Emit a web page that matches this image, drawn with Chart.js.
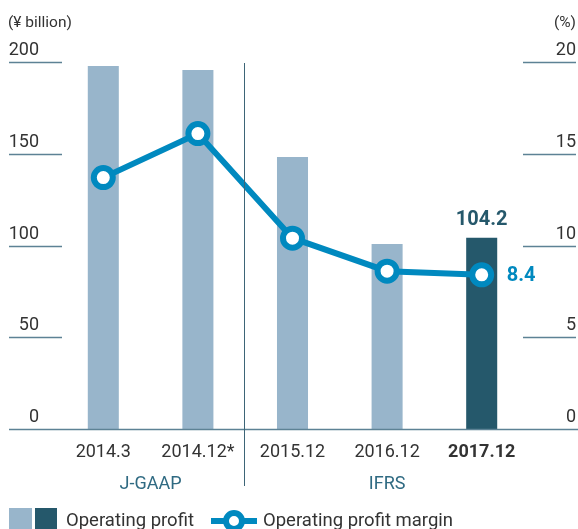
<!DOCTYPE html>
<html>
<head>
<meta charset="utf-8">
<script src="https://cdn.jsdelivr.net/npm/chart.js@4/dist/chart.umd.min.js"></script>
<style>
  html, body { margin: 0; padding: 0; background: #fff; }
  canvas { display: block; }
</style>
</head>
<body>
<canvas id="myChart" width="578" height="529"></canvas>
<script>
  // chart values
  const categories = ['2014.3', '2014.12*', '2015.12', '2016.12', '2017.12'];
  const operatingProfit = [197.8, 195.6, 148.2, 100.8, 104.2];
  const profitMargin = [13.7, 16.1, 10.4, 8.6, 8.4];
  const leftTicks = [0, 50, 100, 150, 200];
  const rightTicks = [0, 5, 10, 15, 20];
  const groups = [{ label: 'J-GAAP', at: 0.5 }, { label: 'IFRS', at: 3 }];

  const LIGHT = '#98b5cb';
  const DARK = '#25586b';
  const BLUE = '#0089bf';
  const GRID = '#5d8295';
  const TEXT = '#333333';
  const FONT = 'Roboto, "Liberation Sans", sans-serif';

  const barColors = categories.map((c, i) => i === categories.length - 1 ? DARK : LIGHT);

  // draws axes, labels and legend around the plot
  const decor = {
    id: 'decor',
    afterDraw(chart) {
      const ctx = chart.ctx;
      const x = chart.scales.x;
      const y = chart.scales.y;
      const y1 = chart.scales.y1;
      const W = chart.width;
      ctx.save();

      // unit labels
      ctx.fillStyle = TEXT;
      ctx.font = '15.5px ' + FONT;
      ctx.textBaseline = 'alphabetic';
      ctx.textAlign = 'left';
      ctx.fillText('(¥ billion)', 8, 27);
      ctx.textAlign = 'right';
      ctx.fillText('(%)', 576, 27);

      // short grid segments with tick labels
      ctx.font = '18px ' + FONT;
      ctx.strokeStyle = GRID;
      ctx.lineWidth = 1.5;
      leftTicks.forEach(v => {
        const py = Math.round(y.getPixelForValue(v)) + 0.5;
        if (v !== 0) {
          ctx.beginPath(); ctx.moveTo(9, py); ctx.lineTo(62, py); ctx.stroke();
        }
        ctx.textAlign = 'right';
        ctx.fillText(String(v), 39, py - 8);
      });
      rightTicks.forEach(v => {
        const py = Math.round(y1.getPixelForValue(v)) + 0.5;
        if (v !== 0) {
          ctx.beginPath(); ctx.moveTo(523, py); ctx.lineTo(576, py); ctx.stroke();
        }
        ctx.textAlign = 'right';
        ctx.fillText(String(v), 576, py - 8);
      });

      // base line
      const by = Math.round(y.getPixelForValue(0)) + 0.5;
      ctx.beginPath(); ctx.moveTo(9, by); ctx.lineTo(W, by); ctx.stroke();

      // separator between J-GAAP and IFRS
      const sx = Math.round((x.getPixelForValue(1) + x.getPixelForValue(2)) / 2) - 0.5;
      ctx.lineWidth = 1;
      ctx.strokeStyle = '#3d6577';
      ctx.beginPath(); ctx.moveTo(sx, 63); ctx.lineTo(sx, 486); ctx.stroke();

      // category labels
      ctx.textAlign = 'center';
      categories.forEach((c, i) => {
        ctx.font = (i === categories.length - 1 ? 'bold ' : '') + '18px ' + FONT;
        ctx.fillStyle = TEXT;
        ctx.fillText(c, x.getPixelForValue(i), 457);
      });
      ctx.font = '18px ' + FONT;
      ctx.fillStyle = '#2f6a82';
      groups.forEach(g => {
        const gx = (x.getPixelForValue(Math.floor(g.at)) + x.getPixelForValue(Math.ceil(g.at))) / 2;
        ctx.fillText(g.label, gx, 489);
      });

      // value labels for the latest year
      const last = categories.length - 1;
      ctx.font = 'bold 20px ' + FONT;
      ctx.fillStyle = DARK;
      ctx.textAlign = 'center';
      ctx.fillText(operatingProfit[last].toFixed(1), x.getPixelForValue(last), y.getPixelForValue(operatingProfit[last]) - 13);
      ctx.fillStyle = BLUE;
      ctx.textAlign = 'left';
      ctx.textBaseline = 'middle';
      ctx.fillText(profitMargin[last].toFixed(1), x.getPixelForValue(last) + 25, y1.getPixelForValue(profitMargin[last]) + 1);

      // legend
      ctx.textBaseline = 'alphabetic';
      ctx.fillStyle = LIGHT;
      ctx.fillRect(9, 508, 23, 23);
      ctx.fillStyle = DARK;
      ctx.fillRect(35, 508, 22, 23);
      ctx.font = '18.5px ' + FONT;
      ctx.fillStyle = TEXT;
      ctx.fillText('Operating profit', 66, 526);
      ctx.strokeStyle = BLUE;
      ctx.lineWidth = 6;
      ctx.beginPath(); ctx.moveTo(211, 521); ctx.lineTo(257, 521); ctx.stroke();
      ctx.fillStyle = '#fff';
      ctx.beginPath(); ctx.arc(234, 521, 8, 0, Math.PI * 2); ctx.fill(); ctx.stroke();
      ctx.fillStyle = TEXT;
      ctx.fillText('Operating profit margin', 263, 526);

      ctx.restore();
    }
  };

  const chartdata = {
    labels: categories,
    datasets: [
      {
        type: 'line',
        label: 'Operating profit margin',
        data: profitMargin,
        yAxisID: 'y1',
        borderColor: BLUE,
        borderWidth: 6,
        backgroundColor: '#ffffff',
        pointBackgroundColor: '#ffffff',
        pointBorderColor: BLUE,
        pointRadius: 9.5,
        pointBorderWidth: 6,
        tension: 0,
        clip: false,
        order: 0
      },
      {
        type: 'bar',
        label: 'Operating profit',
        data: operatingProfit,
        yAxisID: 'y',
        backgroundColor: barColors,
        categoryPercentage: 1.0,
        barPercentage: 0.328,
        order: 1
      }
    ]
  };

  var canvas = document.getElementById('myChart');
  var setup = {
    type: 'bar',
    data: chartdata,
    options: {
      responsive: false,
      animation: false,
      devicePixelRatio: 1,
      layout: { padding: { left: 56, right: 49, top: 62, bottom: 100 } },
      plugins: {
        legend: { display: false },
        tooltip: { enabled: false }
      },
      scales: {
        x: { display: false, offset: true },
        y: { display: false, min: 0, max: 200 },
        y1: { display: false, min: 0, max: 20, position: 'right' }
      }
    },
    plugins: [decor]
  };
  chart = new Chart(canvas, setup);
</script>
</body>
</html>
